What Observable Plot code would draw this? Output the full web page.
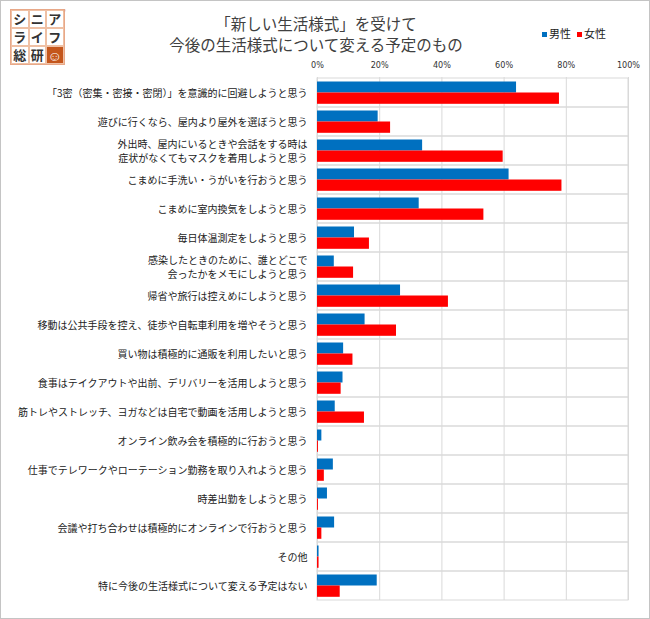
<!DOCTYPE html>
<html><head><meta charset="utf-8">
<script src="https://cdn.jsdelivr.net/npm/d3@7"></script>
<script src="https://cdn.jsdelivr.net/npm/@observablehq/plot@0.6"></script>
<style>
html,body{margin:0;padding:0;background:#fff;}
#frame{position:relative;width:650px;height:619px;box-sizing:border-box;border:1px solid #c4c4c4;background:#fff;font-family:'Noto Sans CJK JP',sans-serif;overflow:hidden;}
#chart{position:absolute;left:0;top:0;}
#title{position:absolute;left:0;top:12px;width:630px;text-align:center;font-size:15.5px;line-height:20.5px;color:#404040;}
#legend{position:absolute;left:541px;top:24px;font-size:11px;color:#222;white-space:nowrap;}
#legend .sw{display:inline-block;width:5px;height:5px;margin-right:2px;vertical-align:middle;position:relative;top:-1px;}
#logo{position:absolute;left:9px;top:8px;display:grid;grid-template-columns:repeat(3,17.5px);grid-template-rows:repeat(3,18px);border:1px solid #e8a888;}
#logo div{border:1px solid #efc0a4;box-sizing:border-box;font-size:13px;line-height:16px;text-align:center;color:#333;font-weight:bold;}
#logo .smile{background:#c4561c;color:#fff;font-size:14px;font-weight:normal;}
#reg{position:absolute;left:62px;top:6px;font-size:6px;color:#e0a080;}
</style></head>
<body>
<div id="frame">
  <div id="chart"></div>
  <div id="logo"></div>
  <div id="reg">®</div>
  <div id="title"></div>
  <div id="legend"></div>
</div>
<script>
const titleLines = ["「新しい生活様式」を受けて", "今後の生活様式について変える予定のもの"];
const logoChars = ["シ","ニ","ア","ラ","イ","フ","総","研","☺"];
const seriesNames = ["男性", "女性"];
const seriesColors = ["#0070C0", "#FF0000"];
const categories = [
  "「3密（密集・密接・密閉）」を意識的に回避しようと思う",
  "遊びに行くなら、屋内より屋外を選ぼうと思う",
  "外出時、屋内にいるときや会話をする時は\n症状がなくてもマスクを着用しようと思う",
  "こまめに手洗い・うがいを行おうと思う",
  "こまめに室内換気をしようと思う",
  "毎日体温測定をしようと思う",
  "感染したときのために、誰とどこで\n会ったかをメモにしようと思う",
  "帰省や旅行は控えめにしようと思う",
  "移動は公共手段を控え、徒歩や自転車利用を増やそうと思う",
  "買い物は積極的に通販を利用したいと思う",
  "食事はテイクアウトや出前、デリバリーを活用しようと思う",
  "筋トレやストレッチ、ヨガなどは自宅で動画を活用しようと思う",
  "オンライン飲み会を積極的に行おうと思う",
  "仕事でテレワークやローテーション勤務を取り入れようと思う",
  "時差出勤をしようと思う",
  "会議や打ち合わせは積極的にオンラインで行おうと思う",
  "その他",
  "特に今後の生活様式について変える予定はない"
];
const male =   [0.640, 0.195, 0.338, 0.616, 0.327, 0.119, 0.054, 0.267, 0.153, 0.084, 0.082, 0.057, 0.014, 0.051, 0.032, 0.055, 0.005, 0.192];
const female = [0.778, 0.235, 0.597, 0.786, 0.535, 0.167, 0.116, 0.421, 0.254, 0.114, 0.076, 0.151, 0.003, 0.022, 0.003, 0.014, 0.005, 0.073];
const xTicks = [0, 0.2, 0.4, 0.6, 0.8, 1.0];

const data = categories.flatMap((c, i) => [
  {category: c, series: seriesNames[0], value: male[i]},
  {category: c, series: seriesNames[1], value: female[i]}
]);

// Title, legend, logo
document.getElementById("title").innerHTML = titleLines.join("<br>");
document.getElementById("legend").innerHTML = seriesNames.map((s, i) =>
  `<span style="margin-right:6px"><span class="sw" style="background:${seriesColors[i]}"></span>${s}</span>`).join("");
document.getElementById("logo").innerHTML = logoChars.map((c, i) =>
  `<div class="${i === 8 ? 'smile' : ''}">${c}</div>`).join("");

const grid = "#d9d9d9";
const plot = Plot.plot({
  width: 648,
  height: 617,
  marginLeft: 316,
  marginRight: 21,
  marginTop: 76,
  marginBottom: 18,
  style: {fontFamily: "'Noto Sans CJK JP', sans-serif", background: "transparent"},
  x: {domain: [0, 1], label: null},
  y: {domain: categories, padding: 0, label: null},
  color: {domain: seriesNames, range: seriesColors},
  marks: [
    Plot.gridX({ticks: xTicks, stroke: grid, strokeOpacity: 1}),
    Plot.barX(categories, {x1: 0, x2: 1, y: d => d, fill: "none", stroke: grid, strokeWidth: 1}),
    Plot.barX(data.filter(d => d.series === seriesNames[0]), {
      x: "value", y: "category", fill: "series", insetTop: 3.5, insetBottom: 14.5
    }),
    Plot.barX(data.filter(d => d.series === seriesNames[1]), {
      x: "value", y: "category", fill: "series", insetTop: 14.5, insetBottom: 3.2
    }),
    Plot.axisX({anchor: "top", ticks: xTicks, tickFormat: d => Math.round(d * 100) + "%",
      tickSize: 0, tickPadding: 10, fontSize: 9, fill: "#333", label: null,
      fontFamily: "'Liberation Sans Narrow', 'DejaVu Sans Condensed', sans-serif"}),
    Plot.axisY({anchor: "left", tickSize: 0, tickPadding: 10, fontSize: 10, label: null,
      lineHeight: 1.4, fill: "#222"})
  ]
});
document.getElementById("chart").appendChild(plot);
</script>
</body></html>
